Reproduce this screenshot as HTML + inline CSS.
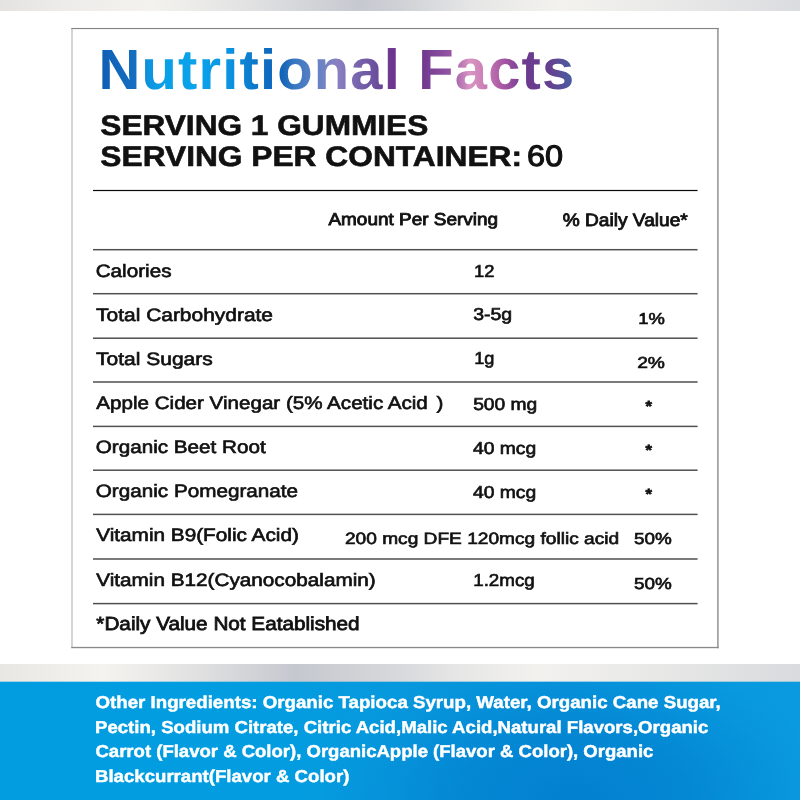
<!DOCTYPE html>
<html lang="en"><head><meta charset="utf-8"><title>Nutritional Facts</title>
<style>
html,body{margin:0;padding:0;background:#fff;}
body{width:800px;height:800px;overflow:hidden;position:relative;font-family:"Liberation Sans",Arial,sans-serif;}
svg{position:absolute;left:0;top:0;display:block}
svg text{font-family:"Liberation Sans",Arial,sans-serif;text-rendering:geometricPrecision;}
svg text.s{stroke:#111;stroke-width:0.65px;}
svg text.sb{stroke:#111;stroke-width:0.6px;}
svg text.s60{stroke:#111;stroke-width:1.1px;}
svg text.s2{stroke:#111;stroke-width:0.85px;}
svg text.s3{stroke:#111;stroke-width:0.8px;}
svg text.sw{fill:#fff;stroke:#fff;stroke-width:0.45px;}
</style></head><body>
<svg width="800" height="800" viewBox="0 0 800 800">
<defs>
<linearGradient id="topg" x1="0" x2="1" y1="0" y2="0">
<stop offset="0" stop-color="#e4e3e1"/><stop offset="0.08" stop-color="#edecea"/><stop offset="0.19" stop-color="#f3f2ee"/><stop offset="0.31" stop-color="#e2e2e3"/><stop offset="0.45" stop-color="#c6c9d0"/><stop offset="0.5" stop-color="#cfd1d6"/><stop offset="0.59" stop-color="#e6e6e6"/><stop offset="0.7" stop-color="#f3f2ee"/><stop offset="0.85" stop-color="#e8e8e8"/><stop offset="1" stop-color="#dbdcdf"/>
</linearGradient>
<linearGradient id="botg" x1="0" x2="1" y1="0" y2="0">
<stop offset="0" stop-color="#e8e7e3"/><stop offset="0.13" stop-color="#f4f3ef"/><stop offset="0.25" stop-color="#e0e0e1"/><stop offset="0.37" stop-color="#c5c8cf"/><stop offset="0.5" stop-color="#d8d9dc"/><stop offset="0.57" stop-color="#e6e6e6"/><stop offset="0.67" stop-color="#f2f1ee"/><stop offset="0.82" stop-color="#e8e8e7"/><stop offset="1" stop-color="#d9dadd"/>
</linearGradient>
<linearGradient id="blue" x1="0" x2="1" y1="0" y2="0">
<stop offset="0" stop-color="#019de0"/><stop offset="0.35" stop-color="#039ce0"/><stop offset="0.5" stop-color="#0798dd"/><stop offset="0.7" stop-color="#0794db"/><stop offset="0.9" stop-color="#0899de"/><stop offset="1" stop-color="#0a9adf"/>
</linearGradient>
<radialGradient id="bd" gradientUnits="userSpaceOnUse" cx="0" cy="0" r="1" gradientTransform="translate(575 800) scale(255 148)">
<stop offset="0" stop-color="#027fcf" stop-opacity="0.95"/><stop offset="0.45" stop-color="#0381d0" stop-opacity="0.7"/><stop offset="0.75" stop-color="#0384d2" stop-opacity="0.3"/><stop offset="1" stop-color="#0388d4" stop-opacity="0"/>
</radialGradient>
<linearGradient id="tg" x1="0.008" x2="0.995" y1="0" y2="0">
<stop offset="0" stop-color="#1060b4"/><stop offset="0.073" stop-color="#146fc2"/><stop offset="0.098" stop-color="#0d94e0"/><stop offset="0.13" stop-color="#0aa0e8"/><stop offset="0.2" stop-color="#0aa2ea"/><stop offset="0.26" stop-color="#0a98e4"/><stop offset="0.3" stop-color="#0c84d4"/><stop offset="0.34" stop-color="#0e70c4"/><stop offset="0.38" stop-color="#1064b8"/><stop offset="0.41" stop-color="#3a78c2"/><stop offset="0.47" stop-color="#7084c4"/><stop offset="0.5" stop-color="#8a80c0"/><stop offset="0.55" stop-color="#7460aa"/><stop offset="0.59" stop-color="#6a4a9a"/><stop offset="0.615" stop-color="#6b358f"/><stop offset="0.68" stop-color="#6f398f"/><stop offset="0.74" stop-color="#9555a4"/><stop offset="0.78" stop-color="#d894c2"/><stop offset="0.81" stop-color="#cc80b8"/><stop offset="0.85" stop-color="#a858a4"/><stop offset="0.9" stop-color="#6c3a8f"/><stop offset="0.95" stop-color="#66408f"/><stop offset="1" stop-color="#465fa0"/>
</linearGradient>
</defs>
<rect x="0" y="0" width="800" height="800" fill="#fff"/>
<rect x="0" y="0" width="800" height="11" fill="url(#topg)"/>
<rect x="0" y="664" width="800" height="19" fill="url(#botg)"/>
<rect x="0" y="681.7" width="800" height="118.3" fill="url(#blue)"/>
<rect x="0" y="681.7" width="800" height="118.3" fill="url(#bd)"/>
<rect x="71.3" y="28" width="647.4" height="620.2" fill="#fff"/>
<rect x="71.3" y="28" width="1.4" height="620.2" fill="#c2c2c2"/>
<rect x="717.1" y="28" width="1.6" height="620.2" fill="#999"/>
<rect x="71.3" y="27.95" width="647.4" height="1.15" fill="#858585"/>
<rect x="71.3" y="646.85" width="647.4" height="1.35" fill="#8a8a8a"/>
<rect x="93" y="189.90" width="604.6" height="1.2" fill="#0a0a0a"/>
<rect x="93" y="248.95" width="604.6" height="1.5" fill="#505050"/>
<rect x="93" y="292.95" width="604.6" height="1.5" fill="#505050"/>
<rect x="93" y="337.45" width="604.6" height="1.5" fill="#505050"/>
<rect x="93" y="381.25" width="604.6" height="1.5" fill="#505050"/>
<rect x="93" y="425.65" width="604.6" height="1.5" fill="#505050"/>
<rect x="93" y="469.45" width="604.6" height="1.5" fill="#505050"/>
<rect x="93" y="513.65" width="604.6" height="1.5" fill="#505050"/>
<rect x="93" y="558.25" width="604.6" height="1.5" fill="#505050"/>
<rect x="93" y="602.85" width="604.6" height="1.5" fill="#505050"/>
<g fill="#111">
<text transform="translate(98.44 88.80) scale(1.0240 1)" font-size="56.54" font-weight="700" letter-spacing="1.164" fill="url(#tg)">Nutritional Facts</text>
<text transform="translate(100.35 135.20) scale(1.1216 1)" font-size="28.20" font-weight="700" class="sb">SERVING 1 GUMMIES</text>
<text transform="translate(100.35 165.50) scale(1.1250 1)" font-size="28.20" font-weight="700" class="sb">SERVING PER CONTAINER:</text>
<text transform="translate(527.03 165.95) scale(1.1011 1)" font-size="29.51" class="s60">60</text>
<text transform="translate(328.43 224.57) scale(1.1020 1)" font-size="17.22" class="s2">Amount Per Serving</text>
<text transform="translate(562.76 225.67) scale(1.0657 1)" font-size="17.95" class="s2">% Daily Value*</text>
<text transform="translate(95.69 276.68) scale(1.1522 1)" font-size="17.95" class="s">Calories</text>
<text transform="translate(473.95 277.18) scale(1.0669 1)" font-size="17.22" class="s">12</text>
<text transform="translate(96.11 320.88) scale(1.1670 1)" font-size="17.95" class="s">Total Carbohydrate</text>
<text transform="translate(473.14 320.38) scale(1.1351 1)" font-size="17.22" class="s">3-5g</text>
<text transform="translate(638.35 323.68) scale(1.1554 1)" font-size="15.92" class="s">1%</text>
<text transform="translate(96.10 364.68) scale(1.1703 1)" font-size="17.95" class="s">Total Sugars</text>
<text transform="translate(474.26 363.68) scale(1.0564 1)" font-size="17.22" class="s">1g</text>
<text transform="translate(637.16 368.18) scale(1.2081 1)" font-size="15.92" class="s">2%</text>
<text transform="translate(96.33 409.07) scale(1.1477 1)" font-size="17.95" class="s">Apple Cider Vinegar (5% Acetic Acid <tspan dx="2.66">)</tspan></text>
<text transform="translate(473.16 409.68) scale(1.1171 1)" font-size="17.22" class="s">500 mg</text>
<text transform="translate(95.80 453.28) scale(1.1513 1)" font-size="17.95" class="s">Organic Beet Root</text>
<text transform="translate(472.94 454.18) scale(1.1221 1)" font-size="17.22" class="s">40 mcg</text>
<text transform="translate(95.79 497.28) scale(1.1524 1)" font-size="17.95" class="s">Organic Pomegranate</text>
<text transform="translate(472.94 497.98) scale(1.1221 1)" font-size="17.22" class="s">40 mcg</text>
<text transform="translate(96.22 541.27) scale(1.1570 1)" font-size="17.95" class="s">Vitamin B9(Folic Acid)</text>
<text transform="translate(344.97 543.57) scale(1.1696 1)" font-size="16.35" class="s">200 mcg DFE 120mcg follic acid</text>
<text transform="translate(634.07 544.27) scale(1.1757 1)" font-size="16.06" class="s">50%</text>
<text transform="translate(96.22 585.67) scale(1.1551 1)" font-size="17.95" class="s">Vitamin B12(Cyanocobalamin)</text>
<text transform="translate(473.21 585.97) scale(1.0918 1)" font-size="17.22" class="s">1.2mcg</text>
<text transform="translate(634.07 588.77) scale(1.1757 1)" font-size="16.06" class="s">50%</text>
<text transform="translate(96.34 630.00) scale(1.0964 1)" font-size="18.90" class="s3">*Daily Value Not Eatablished</text>
<text transform="translate(95.48 708.48) scale(1.0866 1)" font-size="17.22" font-weight="700" class="sw">Other Ingredients: Organic Tapioca Syrup, Water, Organic Cane Sugar,</text>
<text transform="translate(95.02 732.88) scale(1.0807 1)" font-size="17.22" font-weight="700" class="sw">Pectin, Sodium Citrate, Citric Acid,Malic Acid,Natural Flavors,Organic</text>
<text transform="translate(95.48 757.17) scale(1.0769 1)" font-size="17.22" font-weight="700" class="sw">Carrot (Flavor &amp; Color), OrganicApple (Flavor &amp; Color), Organic</text>
<text transform="translate(95.01 781.57) scale(1.0817 1)" font-size="17.22" font-weight="700" class="sw">Blackcurrant(Flavor &amp; Color)</text>
<text transform="translate(645.47 411.42) scale(1.1360 1)" font-size="14.59" font-weight="700" stroke="#111" stroke-width="0.7">*</text>
<text transform="translate(645.47 455.41) scale(1.1153 1)" font-size="14.86" font-weight="700" stroke="#111" stroke-width="0.7">*</text>
<text transform="translate(645.47 498.61) scale(1.1153 1)" font-size="14.86" font-weight="700" stroke="#111" stroke-width="0.7">*</text>
</g>
</svg>
</body></html>
